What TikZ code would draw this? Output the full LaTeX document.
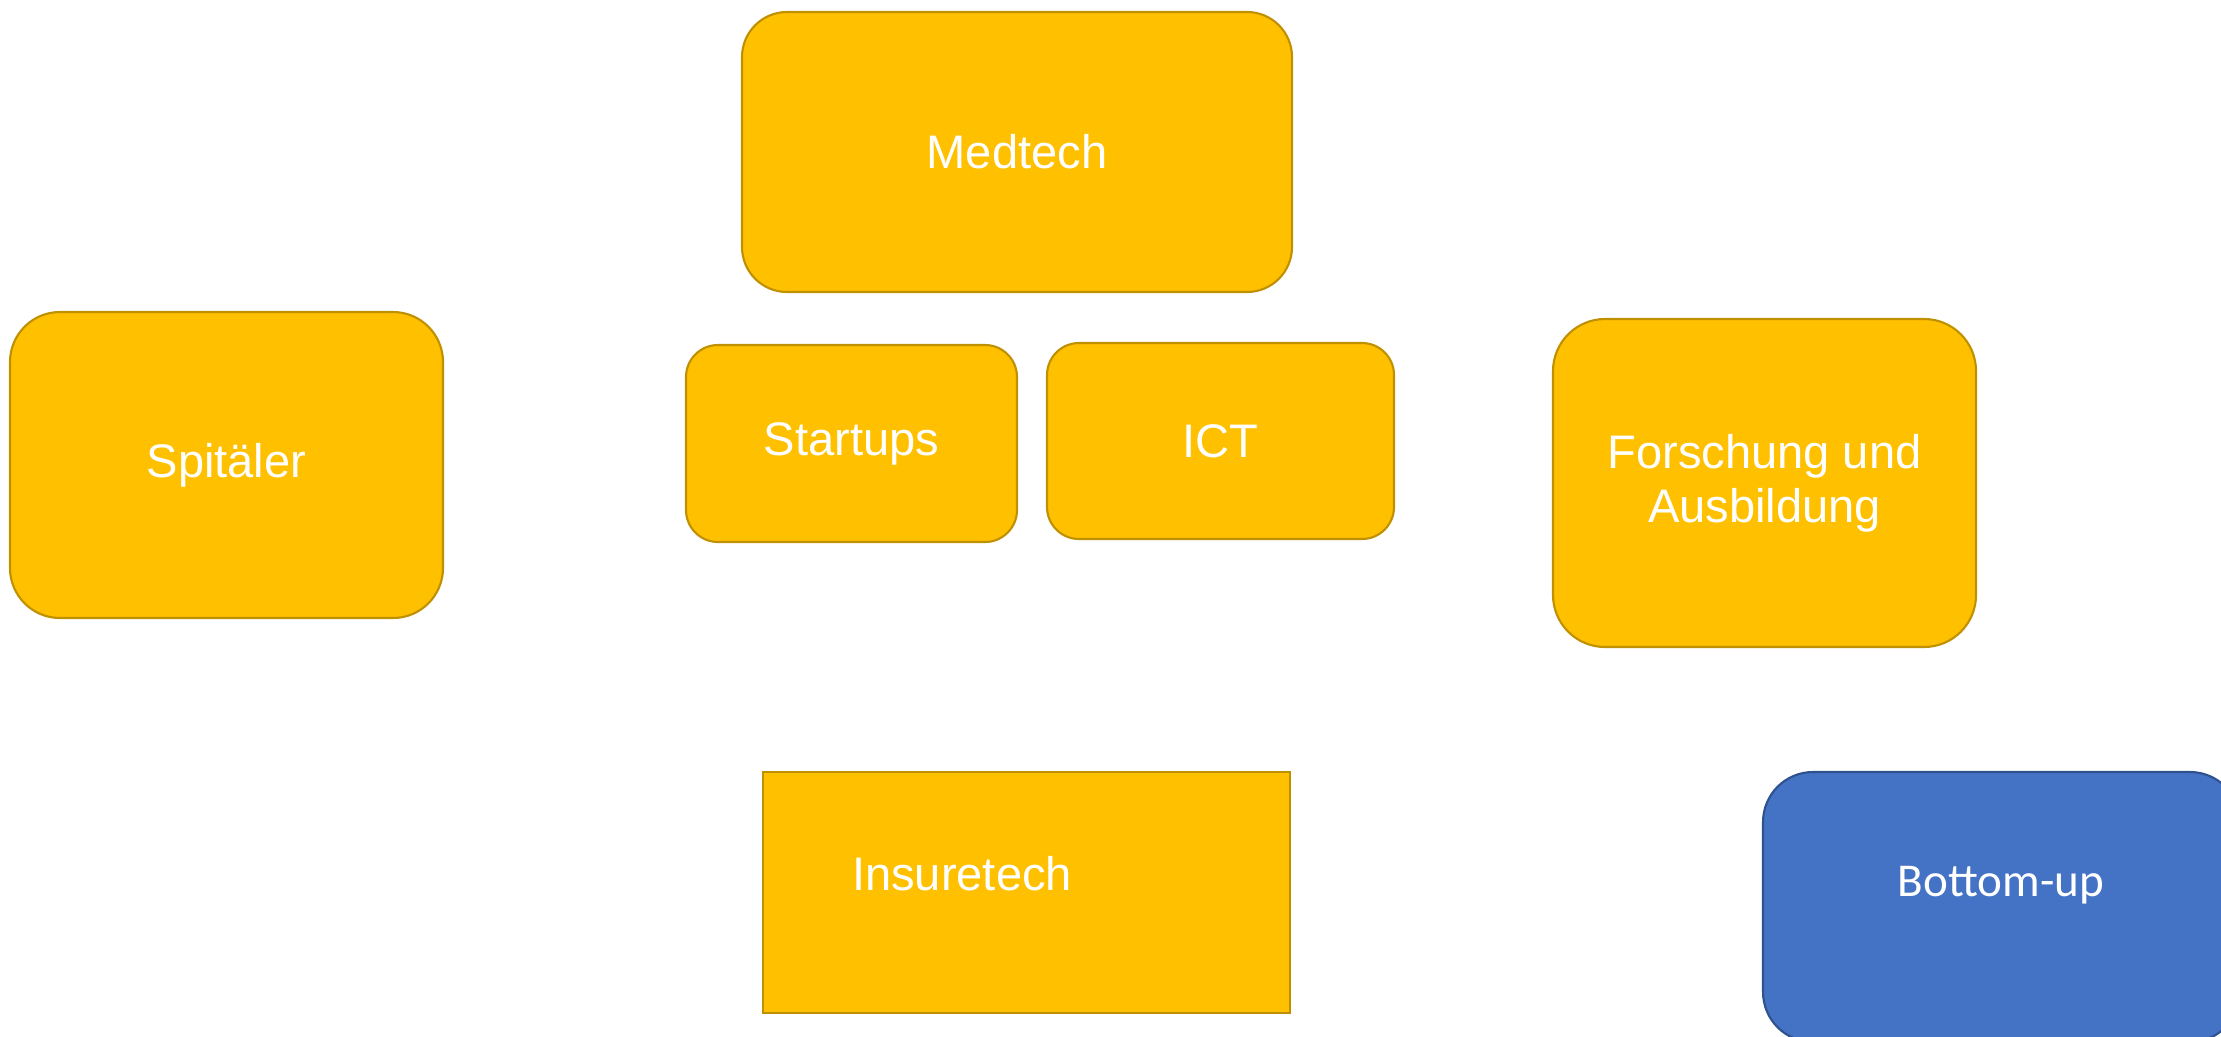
\documentclass[tikz,border=0pt]{standalone}
\usepackage{fontspec}
\setmainfont{Liberation Sans}
\newfontfamily\calibrifont{Carlito}
\definecolor{boxgold}{HTML}{FFC000}
\definecolor{boxgoldline}{HTML}{BF9000}
\definecolor{boxblue}{HTML}{4472C4}
\definecolor{boxblueline}{HTML}{2F528F}
\tikzset{
  goldbox/.style={draw=boxgoldline, fill=boxgold, line width=0.6pt, text=white,
    font=\fontsize{13.4}{15.3}\selectfont, inner sep=0pt, align=center},
  bluebox/.style={draw=boxblueline, fill=boxblue, line width=0.6pt, text=white,
    font=\calibrifont\fontsize{13.4}{15.3}\selectfont, inner sep=0pt, align=center},
  plainlabel/.style={text=white, inner sep=0pt}
}
\begin{document}
\begin{tikzpicture}
            \useasboundingbox (0,0) rectangle (22.21,-10.36);
            % obere Reihe
            \node[goldbox, rounded corners=0.45cm, minimum width=5.50cm, minimum height=2.80cm] (medtech) at (10.17,-1.52) {Medtech};
            % mittlere Reihe
            \node[goldbox, rounded corners=0.50cm, minimum width=4.33cm, minimum height=3.06cm] (spitaeler) at (2.265,-4.65) {Spitäler};
            \node[goldbox, rounded corners=0.32cm, minimum width=3.31cm, minimum height=1.97cm] (startups) at (8.515,-4.435) {Startups};
            \node[goldbox, rounded corners=0.32cm, minimum width=3.47cm, minimum height=1.96cm] (ict) at (12.205,-4.41) {ICT};
            \node[goldbox, rounded corners=0.52cm, minimum width=4.23cm, minimum height=3.28cm] (forschung) at (17.645,-4.83) {Forschung und\\Ausbildung};
            % untere Reihe
            \node[goldbox, minimum width=5.27cm, minimum height=2.41cm] (insure) at (10.265,-8.925) {};
            \node[plainlabel, goldbox, draw=none, fill=none] (insuretxt) at ([xshift=-0.645cm, yshift=0.19cm]insure.center) {Insuretech};
            \node[bluebox, rounded corners=0.50cm, minimum width=4.77cm, minimum height=2.70cm] (bottomup) at (20.015,-9.07) {};
            \node[bluebox, draw=none, fill=none] (bottomuptxt) at (20.01,-8.85) {Bottom-up};
          \end{tikzpicture}
\end{document}
